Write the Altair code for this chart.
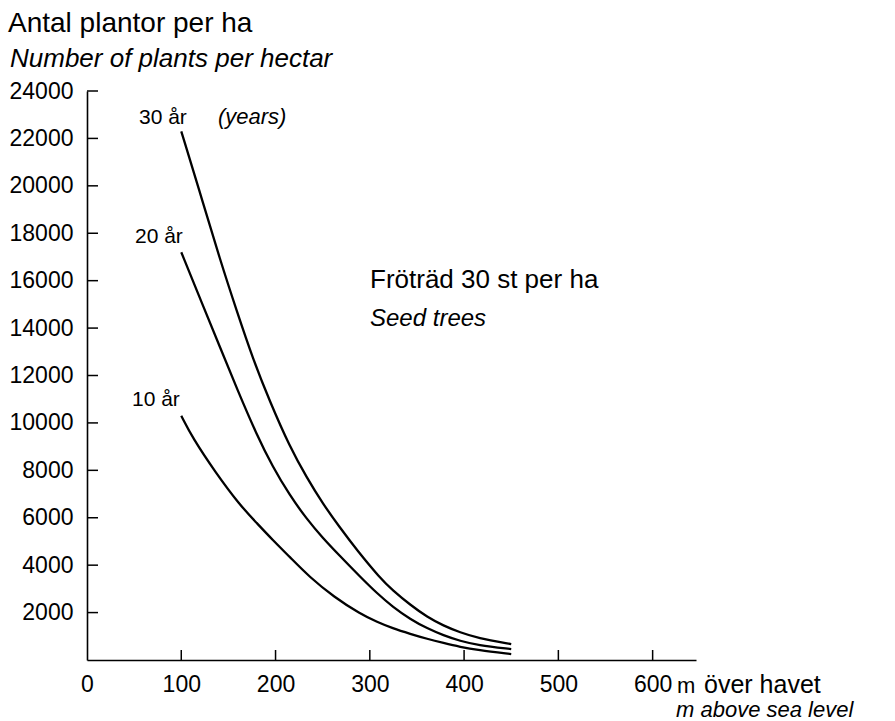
import altair as alt
import pandas as pd

FONT = "Liberation Sans"

# --- data ---
elev_30 = [100, 123, 141, 159, 176, 194, 215, 233, 250, 268, 286, 311, 324, 343, 361, 378, 396, 414, 450]
plants_30 = [22300, 19300, 16900, 14700, 12700, 10900, 9000, 7700, 6600, 5600, 4650, 3450, 2950, 2320, 1810, 1450, 1160, 930, 670]

elev_20 = [100, 123, 141, 159, 180, 197, 215, 233, 250, 268, 290, 308, 324, 343, 361, 378, 396, 414, 450]
plants_20 = [17200, 14950, 13200, 11450, 9500, 8150, 6950, 5950, 5150, 4400, 3500, 2800, 2250, 1720, 1330, 1040, 800, 630, 460]

elev_10 = [100, 112, 136, 162, 180, 197, 215, 236, 262, 290, 308, 324, 343, 361, 378, 396, 414, 450]
plants_10 = [10300, 9370, 7930, 6540, 5780, 5060, 4350, 3500, 2660, 1940, 1600, 1340, 1100, 890, 720, 550, 420, 250]

x_ticks = [100, 200, 300, 400, 500, 600]
x_labels = [0, 100, 200, 300, 400, 500, 600]
y_ticks = [2000, 4000, 6000, 8000, 10000, 12000, 14000, 16000, 18000, 20000, 22000, 24000]

rows = []
for name, xs, ys in [("30", elev_30, plants_30), ("20", elev_20, plants_20), ("10", elev_10, plants_10)]:
    for a, b in zip(xs, ys):
        rows.append({"series": name, "elev": a, "plants": b})
df = pd.DataFrame(rows)

W, H = 609, 569
xscale = alt.Scale(domain=[0, 646], nice=False, zero=False)
yscale = alt.Scale(domain=[0, 24000], nice=False)

lines = alt.Chart(df).mark_line(color="black", strokeWidth=2.3, interpolate="basis").encode(
    x=alt.X("elev:Q", scale=xscale,
            axis=alt.Axis(values=x_labels, title=None, ticks=False, grid=False, format="d",
                          labelPadding=13, labelFontSize=23, labelFont=FONT,
                          labelColor="black", domainColor="black", domainWidth=1.6,
                          labelFlush=False)),
    y=alt.Y("plants:Q", scale=yscale,
            axis=alt.Axis(values=y_ticks, title=None, ticks=False, grid=False, format="d",
                          labelPadding=14, labelFontSize=23, labelFont=FONT,
                          labelColor="black", domainColor="black", domainWidth=1.6,
                          labelFlush=False)),
    detail="series:N",
)

ytick_layer = alt.Chart(pd.DataFrame({"v": y_ticks})).mark_rule(color="black", strokeWidth=1.5).encode(
    y=alt.Y("v:Q", scale=yscale), x=alt.value(0), x2=alt.value(11)
)
xtick_layer = alt.Chart(pd.DataFrame({"v": x_ticks})).mark_rule(color="black", strokeWidth=1.5).encode(
    x=alt.X("v:Q", scale=xscale), y=alt.value(H), y2=alt.value(H - 10)
)


def label(text, x, y, size, italic=False):
    return alt.Chart(alt.Data(values=[{"t": text}])).mark_text(
        x=x, y=y, align="left", baseline="alphabetic", fontSize=size,
        font=FONT, fontStyle="italic" if italic else "normal", color="black"
    ).encode(text="t:N")


texts = [
    label("Antal plantor per ha", -79, -59, 28),
    label("Number of plants per hectar", -77, -24, 26, True),
    label("30 år", 52, 33, 21),
    label("(years)", 131, 33, 22, True),
    label("20 år", 48, 152, 21),
    label("10 år", 45, 315, 21),
    label("Fröträd 30 st per ha", 283, 197, 26),
    label("Seed trees", 283, 235, 24, True),
    label("m", 590, 602, 22),
    label("över havet", 617, 602, 25),
    label("m above sea level", 589, 626, 22, True),
]

chart = alt.layer(lines, ytick_layer, xtick_layer, *texts).properties(
    width=W, height=H,
    background="white",
    autosize=alt.AutoSizeParams(type="none"),
    padding={"left": 87, "top": 91, "right": 199, "bottom": 61},
).configure_view(stroke="transparent", strokeWidth=0)

chart.save("out.html", embed_options={"renderer": "svg", "actions": False})
